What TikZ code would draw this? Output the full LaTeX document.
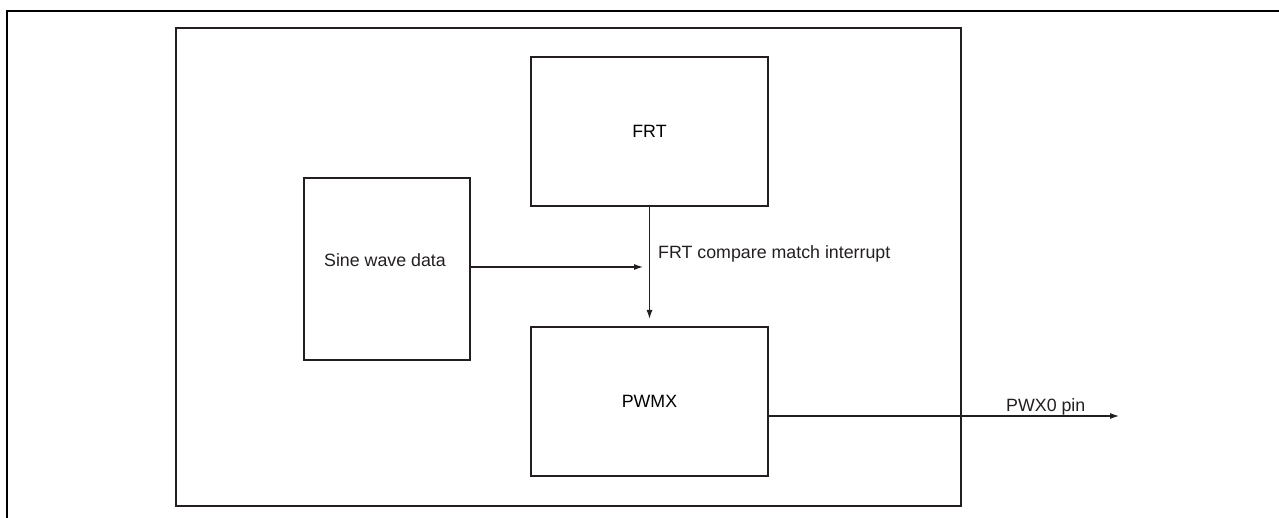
\documentclass[tikz,border=0pt]{standalone}
\usepackage{fontspec}
\setmainfont{Liberation Sans}
\usetikzlibrary{arrows.meta}
\definecolor{boxline}{HTML}{231F20}
\tikzset{
  block/.style={draw=boxline, line width=2.2pt, fill=none, inner sep=0pt, font=\fontsize{17.8}{20}\selectfont},
  conn/.style={draw=boxline, line width=1.1pt, -{Latex[length=9pt,width=6pt]}},
  lbl/.style={font=\fontsize{17.8}{20}\selectfont, inner sep=0pt, text=boxline},
  frameline/.style={draw=black, line width=2.4pt},
}
\begin{document}
\begin{tikzpicture}[x=1pt,y=-1pt]
\useasboundingbox (0,0) rectangle (1279,518);
% outer frame (open to the right and bottom)
\draw[frameline] (7,518) -- (7,11) -- (1279,11);
% enclosing box
\node[block, minimum width=785pt, minimum height=478pt] (chip) at (568.5,267) {};
% blocks
\node[block, minimum width=237pt, minimum height=149pt] (frt) at (649.5,131.5) {FRT};
\node[block, minimum width=166pt, minimum height=182pt] (sine) at (387,269) {};
\node[lbl] (sinetxt) at (385,260) {Sine wave data};
\node[block, minimum width=237pt, minimum height=149pt] (pwmx) at (649.5,401.5) {PWMX};
% connectors
\coordinate (sinetip) at (643,267);
\coordinate (outtip) at (1119,416);
\draw[conn] (sine.east |- sinetip) -- (sinetip);
\draw[conn, shorten >=7pt] (frt.south) -- (pwmx.north);
\draw[conn] (pwmx.east |- outtip) -- (outtip);
% labels
\node[lbl, anchor=west] (irq) at (658,254) {FRT compare match interrupt};
\node[lbl, anchor=base west] (pin) at (1006,411) {PWX0 pin};
\end{tikzpicture}
\end{document}
